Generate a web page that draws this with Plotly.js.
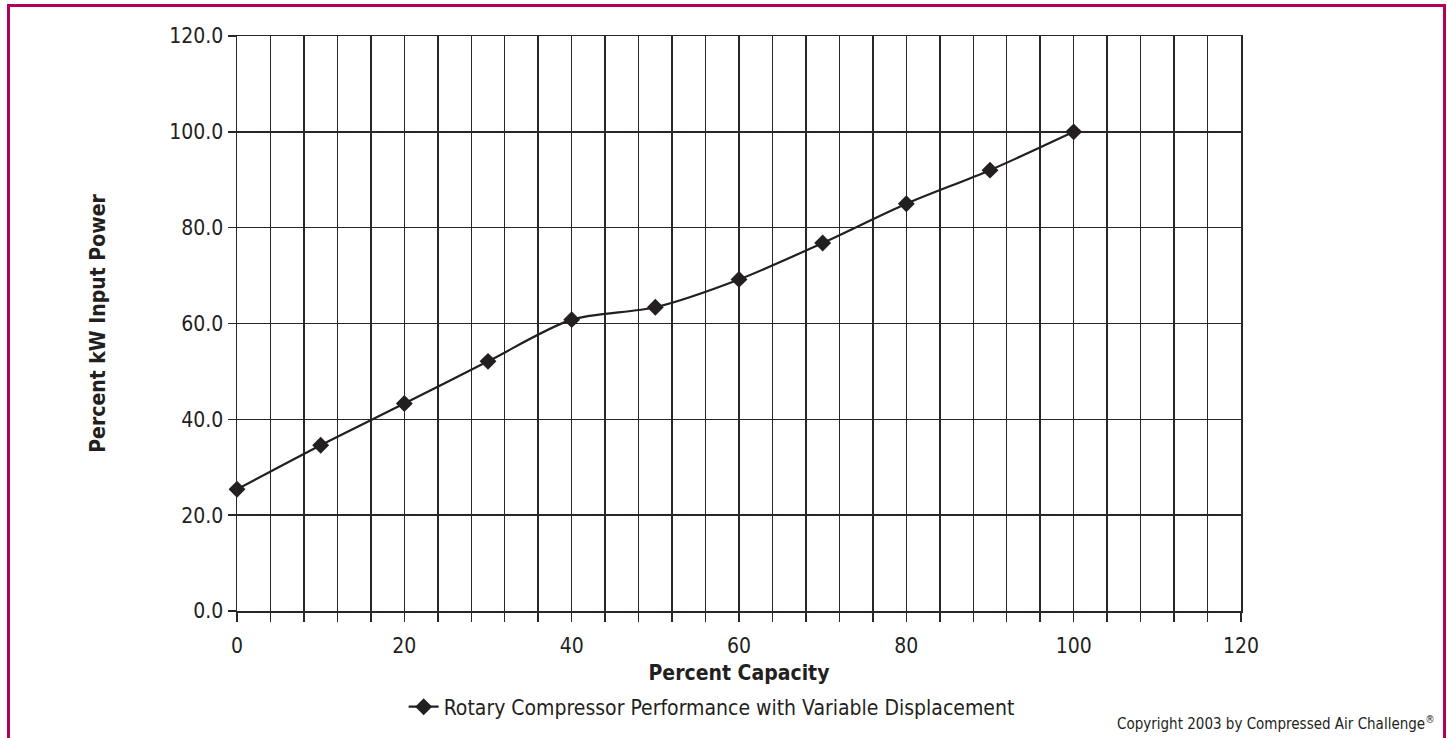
<!DOCTYPE html>
<html>
<head>
<meta charset="utf-8">
<script src="https://cdn.plot.ly/plotly-3.0.1.min.js"></script>
<style>
  html, body { margin: 0; padding: 0; background: #fff; }
  #wrap { position: relative; width: 1447px; height: 738px; overflow: hidden; }
  #chart { width: 1447px; height: 738px; }
  #frame { position: absolute; left: 7px; top: 4px; width: 1433px; height: 800px;
           border: 3.5px solid #b3005a; border-bottom: none; pointer-events: none; }
</style>
</head>
<body>
<div id="wrap">
  <div id="chart"></div>
  <div id="frame"></div>
</div>
<script>
const capacity = [0, 10, 20, 30, 40, 50, 60, 70, 80, 90, 100];
const kwPower = [25.4, 34.6, 43.3, 52.1, 60.8, 63.4, 69.2, 76.8, 85.0, 92.0, 100.0];
const seriesName = "Rotary Compressor Performance with Variable Displacement";
const xTitle = "Percent Capacity";
const yTitle = "Percent kW Input Power";
const copyrightText = "Copyright 2003 by Compressed Air Challenge<sup>®</sup>";

const FONT = '"Liberation Sans Narrow", "DejaVu Sans Condensed", "Arial Narrow", sans-serif';
const INK = '#231f20';
const GRID = '#2a2627';

const trace = {
  x: capacity, y: kwPower, type: 'scatter', mode: 'lines+markers', name: seriesName,
  cliponaxis: false,
  line: { color: INK, width: 2.2, shape: 'spline', smoothing: 0.8 },
  marker: { symbol: 'diamond', size: 13, color: INK }
};

const layout = {
  width: 1447, height: 738,
  margin: { l: 237, r: 206, t: 36, b: 126 },
  paper_bgcolor: '#fff', plot_bgcolor: '#fff',
  font: { family: FONT, color: INK, size: 20 },
  showlegend: true,
  legend: { orientation: 'h', x: 0.166, xanchor: 'left', y: -0.165, yanchor: 'middle',
            font: { family: FONT, size: 21, color: INK }, bgcolor: 'rgba(0,0,0,0)' },
  xaxis: {
    range: [0, 120], dtick: 20, tick0: 0,
    showgrid: true, gridcolor: GRID, gridwidth: 1.5,
    ticks: 'outside', ticklen: 9, tickcolor: GRID, tickwidth: 1.5,
    ticklabelstandoff: 6,
    showline: true, mirror: true, linecolor: GRID, linewidth: 1.5, zeroline: false,
    tickfont: { family: FONT, size: 21, color: INK },
    minor: { dtick: 4, tick0: 0, showgrid: true, gridcolor: GRID, gridwidth: 1.5,
             ticks: 'outside', ticklen: 9, tickcolor: GRID, tickwidth: 1.5 },
    title: { text: '<b>' + xTitle + '</b>', font: { family: FONT, size: 21, color: INK }, standoff: 8 },
    fixedrange: true
  },
  yaxis: {
    range: [0, 120], dtick: 20, tick0: 0, tickformat: '.1f',
    showgrid: true, gridcolor: GRID, gridwidth: 1.5,
    ticks: 'outside', ticklen: 8, tickcolor: GRID, tickwidth: 1.5,
    showline: true, mirror: true, linecolor: GRID, linewidth: 1.5, zeroline: false,
    tickfont: { family: FONT, size: 21, color: INK },
    title: { text: '<b>' + yTitle + '</b>', font: { family: FONT, size: 21, color: INK }, standoff: 58 },
    fixedrange: true
  },
  annotations: [{
    text: copyrightText, xref: 'paper', yref: 'paper',
    x: (1437 - 237) / 1004, y: (612 - 724) / 576, xanchor: 'right', yanchor: 'middle',
    showarrow: false, font: { family: FONT, size: 15, color: INK }
  }]
};

Plotly.newPlot('chart', [trace], layout, { displayModeBar: false, staticPlot: true });
</script>
</body>
</html>
